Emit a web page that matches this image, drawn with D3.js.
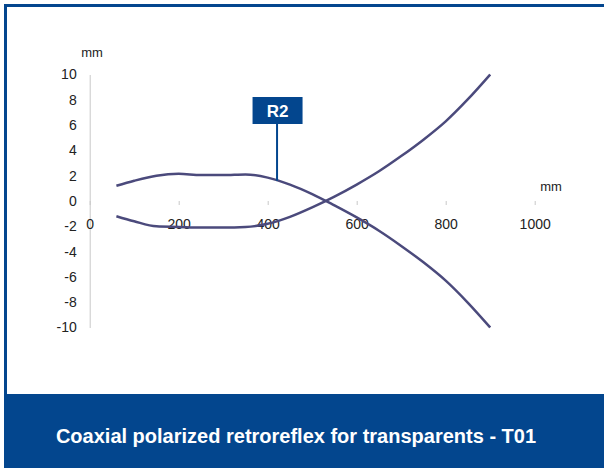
<!DOCTYPE html>
<html>
<head>
<meta charset="utf-8">
<script src="https://cdn.jsdelivr.net/npm/d3@7"></script>
<style>
  body { margin: 0; background: #fff; }
  svg { display: block; font-family: "Liberation Sans", Arial, sans-serif; }
</style>
</head>
<body>
<svg id="chart" width="604" height="468"></svg>
<script>
// distance from the sensor (mm) and beam half-widths (mm)
var distance = [60, 100, 150, 200, 250, 300, 350, 400, 450, 500, 550, 600, 650, 700, 750, 800, 850, 900];
var upper    = [1.2, 1.6, 2.0, 2.15, 2.05, 2.05, 2.1, 1.85, 1.3, 0.55, -0.35, -1.3, -2.35, -3.55, -4.85, -6.3, -8.05, -10];
var lower    = [-1.2, -1.6, -2.0, -2.05, -2.1, -2.1, -2.05, -1.8, -1.25, -0.5, 0.35, 1.3, 2.35, 3.55, 4.85, 6.3, 8.05, 10];
var xTicks = [0, 200, 400, 600, 800, 1000];
var yTicks = [-10, -8, -6, -4, -2, 0, 2, 4, 6, 8, 10];
var title = "Coaxial polarized retroreflex for transparents - T01";
var r2 = {label: "R2", dist: 421, val: 1.6};

var blue = "#03468e";
var curveColor = "#4b4a7c";

var svg = d3.select("#chart");

// frame
svg.append("rect").attr("x", 4).attr("y", 4).attr("width", 600).attr("height", 3).attr("fill", blue);
svg.append("rect").attr("x", 4).attr("y", 4).attr("width", 3).attr("height", 392).attr("fill", blue);
svg.append("rect").attr("x", 4).attr("y", 394).attr("width", 600).attr("height", 74).attr("fill", blue);
svg.append("text")
  .attr("x", 296).attr("y", 436)
  .attr("text-anchor", "middle").attr("dominant-baseline", "central")
  .attr("fill", "#fff").attr("font-weight", "bold").attr("font-size", 20)
  .text(title);

var x = d3.scaleLinear().domain([0, 1000]).range([89.7, 534.7]);
var y = d3.scaleLinear().domain([-10, 10]).range([327.5, 74.5]);

// y axis
var yAxis = svg.append("g")
  .attr("transform", "translate(" + x(0) + ",0)")
  .call(d3.axisLeft(y).tickValues(yTicks).tickSize(0).tickPadding(13).tickFormat(String));
yAxis.select(".domain").attr("stroke", "#c8c8c8");
yAxis.selectAll("text").attr("font-size", 14).attr("fill", "#222").attr("font-family", null);

// x axis (no line, just ticks)
var xAxis = svg.append("g")
  .attr("transform", "translate(0," + y(0) + ")")
  .call(d3.axisBottom(x).tickValues(xTicks).tickSize(4).tickPadding(14).tickSizeOuter(0).tickFormat(String));
xAxis.select(".domain").remove();
xAxis.selectAll("line").attr("stroke", "#c8c8c8");
xAxis.selectAll("text").attr("font-size", 14).attr("fill", "#222").attr("font-family", null);

// unit labels
svg.append("text").attr("x", 92).attr("y", 52).attr("text-anchor", "middle")
  .attr("dominant-baseline", "central").attr("font-size", 13).attr("fill", "#222").text("mm");
svg.append("text").attr("x", 551).attr("y", 186).attr("text-anchor", "middle")
  .attr("dominant-baseline", "central").attr("font-size", 13).attr("fill", "#222").text("mm");

// curves
var line = d3.line()
  .x(function(d) { return x(d[0]); })
  .y(function(d) { return y(d[1]); })
  .curve(d3.curveMonotoneX);

[upper, lower].forEach(function(series) {
  svg.append("path")
    .datum(d3.zip(distance, series))
    .attr("d", line)
    .attr("fill", "none")
    .attr("stroke", curveColor)
    .attr("stroke-width", 2.5);
});

// R2 callout
var cx = x(r2.dist);
svg.append("line")
  .attr("x1", cx).attr("x2", cx)
  .attr("y1", 120).attr("y2", y(r2.val))
  .attr("stroke", blue).attr("stroke-width", 2);
svg.append("rect")
  .attr("x", cx - 24.5).attr("y", 97).attr("width", 50).attr("height", 27)
  .attr("fill", blue);
svg.append("text")
  .attr("x", cx + 0.5).attr("y", 111)
  .attr("text-anchor", "middle").attr("dominant-baseline", "central")
  .attr("fill", "#fff").attr("font-weight", "bold").attr("font-size", 17)
  .text(r2.label);
</script>
</body>
</html>
